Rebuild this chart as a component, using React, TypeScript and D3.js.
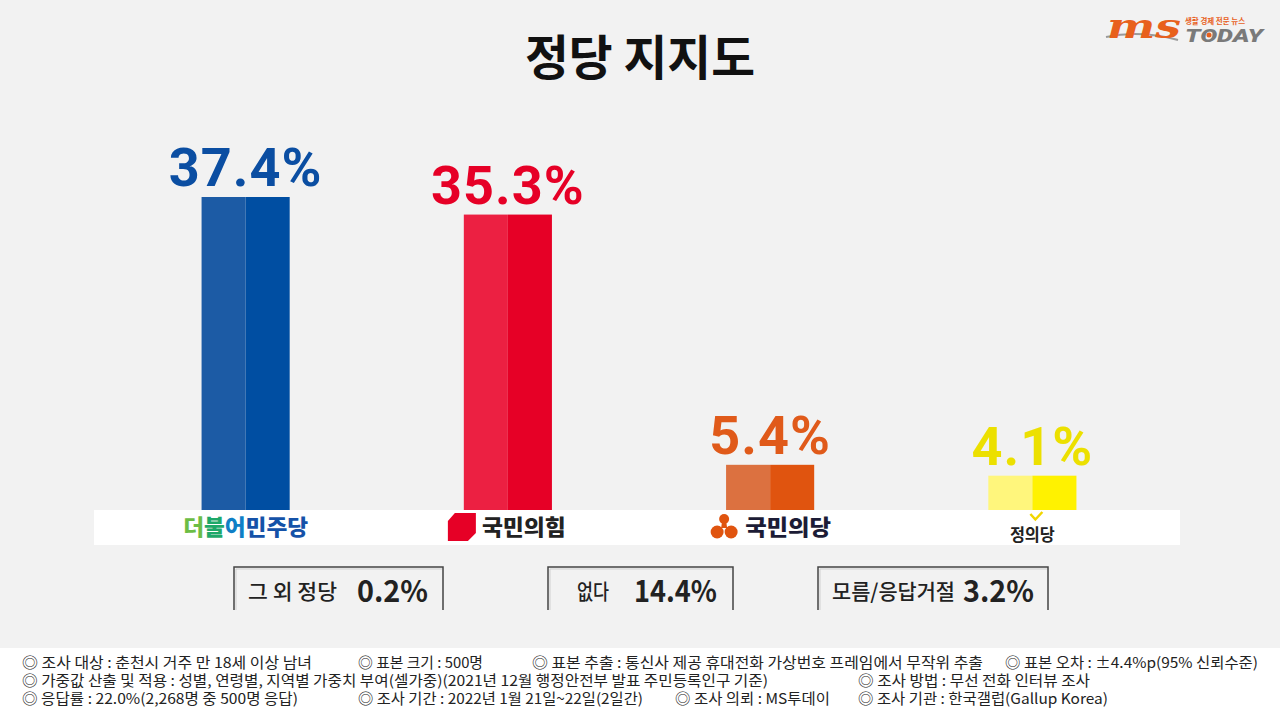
import React from 'react'
import * as d3 from 'd3'

const parties = ['더불어민주당', '국민의힘', '국민의당', '정의당']
const values = [37.4, 35.3, 5.4, 4.1]
const lightColors = ['#1c5ba5', '#ec2042', '#dc7140', '#fff67c']
const darkColors = ['#004ea2', '#e60026', '#e0540f', '#fff200']
const labelColors = ['#0b4ea2', '#e60026', '#e05a1a', '#ece000']

const otherLabels = ['그 외 정당', '없다', '모름/응답거절']
const otherValues = ['0.2%', '14.4%', '3.2%']

const noteRows = [
  ['◎ 조사 대상 : 춘천시 거주 만 18세 이상 남녀', '◎ 표본 크기 : 500명', '◎ 표본 추출 : 통신사 제공 휴대전화 가상번호 프레임에서 무작위 추출', '◎ 표본 오차 : ±4.4%p(95% 신뢰수준)'],
  ['◎ 가중값 산출 및 적용 : 성별, 연령별, 지역별 가중치 부여(셀가중)(2021년 12월 행정안전부 발표 주민등록인구 기준)', '◎ 조사 방법 : 무선 전화 인터뷰 조사'],
  ['◎ 응답률 : 22.0%(2,268명 중 500명 응답)', '◎ 조사 기간 : 2022년 1월 21일~22일(2일간)', '◎ 조사 의뢰 : MS투데이', '◎ 조사 기관 : 한국갤럽(Gallup Korea)'],
]
// x position and width of each note item
const noteX = [[22, 358, 532, 1005], [22, 858], [22, 358, 675, 858]]
const noteW = [[290, 125, 451, 253], [746, 232], [276, 285, 155, 250]]

const KR = '"Noto Sans CJK KR", "Noto Sans", sans-serif'

const PartyLogo = ({ name, cx }: { name: string; cx: number }) => {
  const y = 535
  if (name === '더불어민주당') {
    return (
      <text x={cx} y={y} textAnchor="middle" fontFamily={KR} fontWeight={900} fontSize={22} textLength={125} lengthAdjust="spacingAndGlyphs">
        <tspan fill="#6cbd45">더</tspan>
        <tspan fill="#1ea869">불</tspan>
        <tspan fill="#0f7fc6">어</tspan>
        <tspan fill="#1552a8">민주당</tspan>
      </text>
    )
  }
  if (name === '국민의힘') {
    const x0 = cx - 60
    return (
      <g>
        <path d={`M${x0 + 7},513 L${x0 + 28},513 L${x0 + 28},533 L${x0 + 20},541 L${x0},541 L${x0},521 Z`} fill="#e60026" />
        <text x={cx + 16} y={y} textAnchor="middle" fontFamily={KR} fontWeight={900} fontSize={22} fill="#222" textLength={84} lengthAdjust="spacingAndGlyphs">국민의힘</text>
      </g>
    )
  }
  if (name === '국민의당') {
    const lx = cx - 46
    return (
      <g>
        <g fill="#e0540f">
          <circle cx={lx} cy={519} r={5} />
          <circle cx={lx - 7} cy={532} r={6.5} />
          <circle cx={lx + 7} cy={532} r={6.5} />
          <path d={`M${lx - 2},521 L${lx + 2},521 L${lx + 3},528 L${lx - 3},528 Z`} />
        </g>
        <text x={cx + 18} y={y} textAnchor="middle" fontFamily={KR} fontWeight={900} fontSize={22} fill="#1c1c36" textLength={86} lengthAdjust="spacingAndGlyphs">국민의당</text>
      </g>
    )
  }
  return (
    <g>
      <path d={`M${cx - 2},514 L${cx + 3},519.5 L${cx + 10},512`} fill="none" stroke="#f2d600" strokeWidth={2.5} />
      <text x={cx} y={541} textAnchor="middle" fontFamily={KR} fontWeight={700} fontSize={17} fill="#222" textLength={45} lengthAdjust="spacingAndGlyphs">정의당</text>
    </g>
  )
}

const App = () => {
  const x = d3.scaleBand<string>().domain(parties).range([114.5, 1163.5]).paddingInner(0.664).paddingOuter(0.332)
  const y = d3.scaleLinear().domain([0, 37.4]).range([510, 197])
  const bw = x.bandwidth()

  const boxes = [
    { x0: 234, x1: 443, lx: 248, lw: 89, vx: 357, vw: 71 },
    { x0: 548, x1: 733, lx: 577, lw: 32, vx: 634, vw: 83 },
    { x0: 818, x1: 1048, lx: 832, lw: 123, vx: 963, vw: 71 },
  ]

  return (
    <svg width={1280} height={720} style={{ position: 'absolute', left: 0, top: 0, display: 'block' }}>
      <rect width={1280} height={720} fill="#f2f2f2" />
      <rect y={648} width={1280} height={72} fill="#ffffff" />

      {/* title */}
      <text x={640} y={75} textAnchor="middle" fontFamily={KR} fontWeight={700} fontSize={48} fill="#111" textLength={230} lengthAdjust="spacingAndGlyphs">정당 지지도</text>

      {/* logo */}
      <g>
        <path d="M1106,37 Q1140,30 1178,40" fill="none" stroke="#9a9a9a" strokeWidth={2} />
        <text x={1107} y={38} fontFamily="'DejaVu Serif', serif" fontStyle="italic" fontWeight={700} fontSize={34} fill="#e8601c" textLength={74} lengthAdjust="spacingAndGlyphs">ms</text>
        <text x={1185} y={24} fontFamily={KR} fontWeight={700} fontSize={8} fill="#e8601c" textLength={60} lengthAdjust="spacingAndGlyphs">생활 경제 전문 뉴스</text>
        <text x={1185} y={42} fontFamily="Roboto, sans-serif" fontStyle="italic" fontWeight={900} fontSize={19} fill="#7a7a7a" textLength={78} lengthAdjust="spacingAndGlyphs">TODAY</text>
        <circle cx={1209} cy={35} r={2.5} fill="#e8601c" />
      </g>

      {/* white logo band */}
      <rect x={94} y={510} width={1086} height={35} fill="#ffffff" />

      {/* bars */}
      {parties.map((p, i) => {
        const x0 = x(p) as number
        const top = y(values[i])
        const h = y(0) - top
        return (
          <g key={p}>
            <rect x={x0} y={top} width={bw / 2} height={h} fill={lightColors[i]} />
            <rect x={x0 + bw / 2} y={top} width={bw / 2} height={h} fill={darkColors[i]} />
            <text x={x0 + bw / 2} y={top - 11} textAnchor="middle" fontFamily="Roboto, sans-serif" fontWeight={700} fontSize={54} letterSpacing={1} fill={labelColors[i]}>
              {values[i].toFixed(1)}%
            </text>
            <PartyLogo name={p} cx={x0 + bw / 2} />
          </g>
        )
      })}

      {/* other answers */}
      {otherLabels.map((l, i) => {
        const b = boxes[i]
        return (
          <g key={l}>
            <path d={`M${b.x0},610 L${b.x0},567 L${b.x1},567 L${b.x1},610`} fill="none" stroke="#444" strokeWidth={1.5} />
            <path d={`M${b.x0 + 2},610 L${b.x0 + 2},569 L${b.x1 - 1},569`} fill="none" stroke="#cfcfcf" strokeWidth={1} />
            <text x={b.lx} y={599} fontFamily={KR} fontWeight={500} fontSize={21} fill="#222" textLength={b.lw} lengthAdjust="spacingAndGlyphs">{l}</text>
            <text x={b.vx} y={602} fontFamily={KR} fontWeight={700} fontSize={30} fill="#222" textLength={b.vw} lengthAdjust="spacingAndGlyphs">{otherValues[i]}</text>
          </g>
        )
      })}

      {/* notes */}
      {noteRows.map((row, r) =>
        row.map((t, j) => (
          <text key={r + '-' + j} x={noteX[r][j]} y={668 + r * 18} fontFamily={KR} fontSize={14.5} fill="#222" textLength={noteW[r][j]} lengthAdjust="spacingAndGlyphs">{t}</text>
        ))
      )}
    </svg>
  )
}

export default App
